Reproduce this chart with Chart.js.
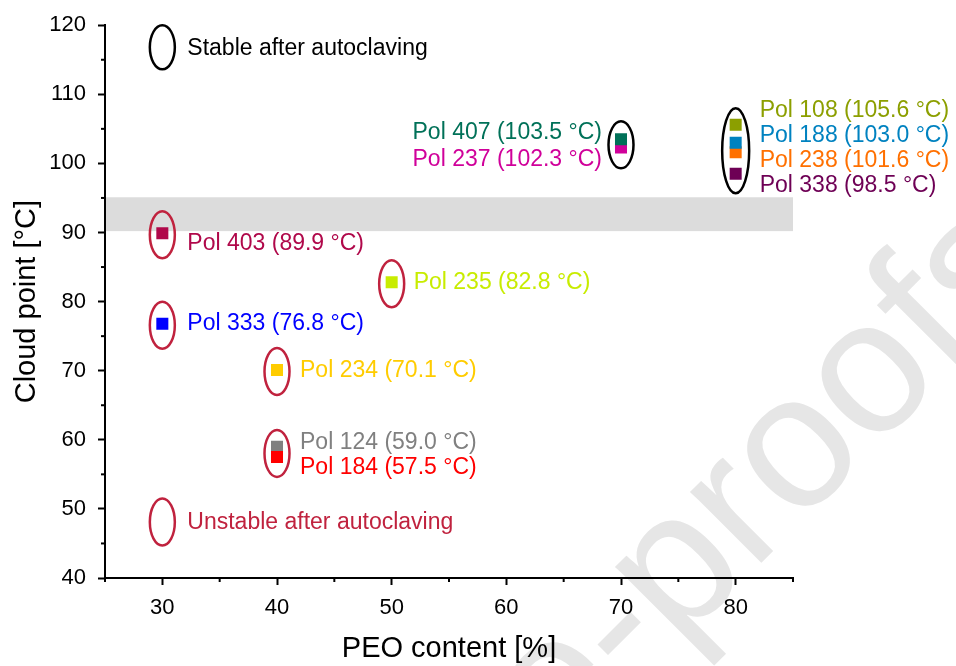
<html>
<head>
<meta charset="utf-8">
<script src="https://cdn.jsdelivr.net/npm/chart.js@4.4.1/dist/chart.umd.min.js"></script>
<title>Cloud point vs PEO content</title>
<style>
  body { margin: 0; background: #fff; }
</style>
</head>
<body>
<canvas id="cloud-chart" width="956" height="666"></canvas>
<script>
// data (order = draw priority, first one ends up on top)
var polymers   = ['Pol 108', 'Pol 188', 'Pol 238', 'Pol 338', 'Pol 407', 'Pol 237',
                  'Pol 403', 'Pol 235', 'Pol 333', 'Pol 234', 'Pol 184', 'Pol 124'];
var peoContent = [80, 80, 80, 80, 70, 70, 30, 50, 30, 40, 40, 40];
var cloudPoint = [105.6, 103.0, 101.6, 98.5, 103.5, 102.3, 89.9, 82.8, 76.8, 70.1, 57.5, 59.0];
var stable     = [true, true, true, true, true, true, false, false, false, false, false, false];
var circleGroup = ['a', 'a', 'a', 'a', 'b', 'b', 'c', 'd', 'e', 'f', 'g', 'g'];

var xTicks = [30, 40, 50, 60, 70, 80];
var xMinorTicks = [25, 35, 45, 55, 65, 75, 85];
var yTicks = [40, 50, 60, 70, 80, 90, 100, 110, 120];
var yMinorTicks = [45, 55, 65, 75, 85, 95, 105, 115];

var bandLow = 90.2, bandHigh = 95.1;

var legendText = ['Stable after autoclaving', 'Unstable after autoclaving'];
var legendX = [30, 30];
var legendY = [116.8, 48.1];

// styles
var colors = {
  'Pol 108': '#8c9f00', 'Pol 188': '#0082c0', 'Pol 238': '#ff7000', 'Pol 338': '#6e0055',
  'Pol 407': '#007158', 'Pol 237': '#d0009a', 'Pol 403': '#b0084a', 'Pol 235': '#c8ec00',
  'Pol 333': '#0000ff', 'Pol 234': '#ffcc00', 'Pol 184': '#ff0000', 'Pol 124': '#808080'
};
var unstableColor = '#c0223e';
var fontFamily = '"Liberation Sans", Arial, sans-serif';

// label offsets from the marker in px: [dx, dy, align]
var labelPos = {
  'Pol 108': [24, -14, 'left'], 'Pol 188': [24, -7, 'left'], 'Pol 238': [24, 8, 'left'],
  'Pol 338': [24, 12, 'left'], 'Pol 407': [-19, -7, 'right'], 'Pol 237': [-19, 12, 'right'],
  'Pol 403': [25, 10, 'left'], 'Pol 235': [22, 0, 'left'], 'Pol 333': [25, 0, 'left'],
  'Pol 234': [23, 1, 'left'], 'Pol 184': [23, 11, 'left'], 'Pol 124': [23, -4, 'left']
};

var backgroundPlugin = {
  id: 'background',
  beforeDraw: function(chart) {
    var ctx = chart.ctx;
    var area = chart.chartArea;
    var y = chart.scales.y;
    ctx.save();
    ctx.fillStyle = '#fff';
    ctx.fillRect(0, 0, chart.width, chart.height);

    // watermark
    ctx.translate(498, 826);
    ctx.rotate(-Math.PI / 4);
    ctx.font = '190px ' + fontFamily;
    ctx.fillStyle = '#e6e6e6';
    ctx.textAlign = 'center';
    ctx.textBaseline = 'alphabetic';
    ctx.fillText('Journal Pre-proofs', 0, 0);
    ctx.restore();

    // grey band
    ctx.save();
    ctx.fillStyle = '#dcdcdc';
    var top = y.getPixelForValue(bandHigh);
    var bot = y.getPixelForValue(bandLow);
    ctx.fillRect(area.left, top, area.right - area.left, bot - top);
    ctx.restore();
  }
};

function ellipse(ctx, cx, cy, rx, ry, color) {
  ctx.beginPath();
  ctx.ellipse(cx, cy, rx, ry, 0, 0, Math.PI * 2);
  ctx.strokeStyle = color;
  ctx.lineWidth = 2.5;
  ctx.stroke();
}

var annotationPlugin = {
  id: 'annotations',
  afterDatasetsDraw: function(chart) {
    var ctx = chart.ctx;
    var xs = chart.scales.x, ys = chart.scales.y;
    ctx.save();

    // minor ticks
    ctx.strokeStyle = '#000';
    ctx.lineWidth = 2;
    xMinorTicks.forEach(function(v) {
      var px = xs.getPixelForValue(v);
      ctx.beginPath();
      ctx.moveTo(px, xs.top);
      ctx.lineTo(px, xs.top + 4);
      ctx.stroke();
    });
    yMinorTicks.forEach(function(v) {
      var py = ys.getPixelForValue(v);
      ctx.beginPath();
      ctx.moveTo(ys.right, py);
      ctx.lineTo(ys.right - 4, py);
      ctx.stroke();
    });

    // circles round each group of points
    var groups = {};
    polymers.forEach(function(p, i) {
      var g = circleGroup[i];
      var px = xs.getPixelForValue(peoContent[i]);
      var py = ys.getPixelForValue(cloudPoint[i]);
      if (!groups[g]) groups[g] = { x: px, min: py, max: py, stable: stable[i] };
      groups[g].min = Math.min(groups[g].min, py);
      groups[g].max = Math.max(groups[g].max, py);
    });
    Object.keys(groups).forEach(function(k) {
      var g = groups[k];
      var half = (g.max - g.min) / 2;
      var ry = Math.max(23.5, half + 18);
      var rx = half > 10 ? 13.5 : 12.5;
      ellipse(ctx, g.x, (g.max + g.min) / 2 + 1.5, rx, ry, g.stable ? '#000' : unstableColor);
    });

    // point labels
    ctx.font = '23px ' + fontFamily;
    ctx.textBaseline = 'middle';
    polymers.forEach(function(p, i) {
      var pos = labelPos[p];
      var px = xs.getPixelForValue(peoContent[i]);
      var py = ys.getPixelForValue(cloudPoint[i]);
      ctx.fillStyle = colors[p];
      ctx.textAlign = pos[2];
      ctx.fillText(p + ' (' + cloudPoint[i].toFixed(1) + ' \u00B0C)', px + pos[0], py + pos[1]);
    });

    // legend
    legendText.forEach(function(t, i) {
      var px = xs.getPixelForValue(legendX[i]);
      var py = ys.getPixelForValue(legendY[i]);
      var c = i === 0 ? '#000' : unstableColor;
      ellipse(ctx, px, py, 12.5, i === 0 ? 22 : 23.5, c);
      ctx.fillStyle = c;
      ctx.textAlign = 'left';
      ctx.fillText(t, px + 25, py + 1);
    });
    ctx.restore();
  }
};

var ctx = document.getElementById('cloud-chart').getContext('2d');
var chart = new Chart(ctx, {
  type: 'scatter',
  data: {
    datasets: polymers.map(function(p, i) {
      return {
        label: p,
        data: [{ x: peoContent[i], y: cloudPoint[i] }],
        pointStyle: 'rect',
        pointRadius: 8.5,
        pointHoverRadius: 8.5,
        backgroundColor: colors[p],
        borderWidth: 0
      };
    })
  },
  options: {
    responsive: false,
    animation: false,
    layout: { padding: { left: 0, top: 22, right: 163, bottom: 0 } },
    plugins: { legend: { display: false }, tooltip: { enabled: false } },
    scales: {
      x: {
        type: 'linear', min: 25, max: 85,
        afterBuildTicks: function(s) { s.ticks = xTicks.map(function(v) { return { value: v }; }); },
        afterFit: function(s) { s.height = 88; },
        grid: { drawOnChartArea: false, tickLength: 7, tickWidth: 2, tickColor: '#000' },
        border: { color: '#000', width: 2 },
        ticks: { color: '#000', padding: 10, font: { size: 22, family: fontFamily } },
        title: { display: true, text: 'PEO content [%]', color: '#000',
                 font: { size: 29, family: fontFamily }, padding: { top: 0, bottom: 0 } }
      },
      y: {
        type: 'linear', min: 40, max: 120,
        afterBuildTicks: function(s) { s.ticks = yTicks.map(function(v) { return { value: v }; }); },
        afterFit: function(s) { s.width = 105; },
        grid: { drawOnChartArea: false, tickLength: 7, tickWidth: 2, tickColor: '#000' },
        border: { color: '#000', width: 2 },
        ticks: { color: '#000', padding: 12, font: { size: 22, family: fontFamily } },
        title: { display: true, text: 'Cloud point [\u00B0C]', color: '#000',
                 font: { size: 29, family: fontFamily }, padding: { top: 9.5, bottom: 0 } }
      }
    }
  },
  plugins: [backgroundPlugin, annotationPlugin]
});
</script>
</body>
</html>
